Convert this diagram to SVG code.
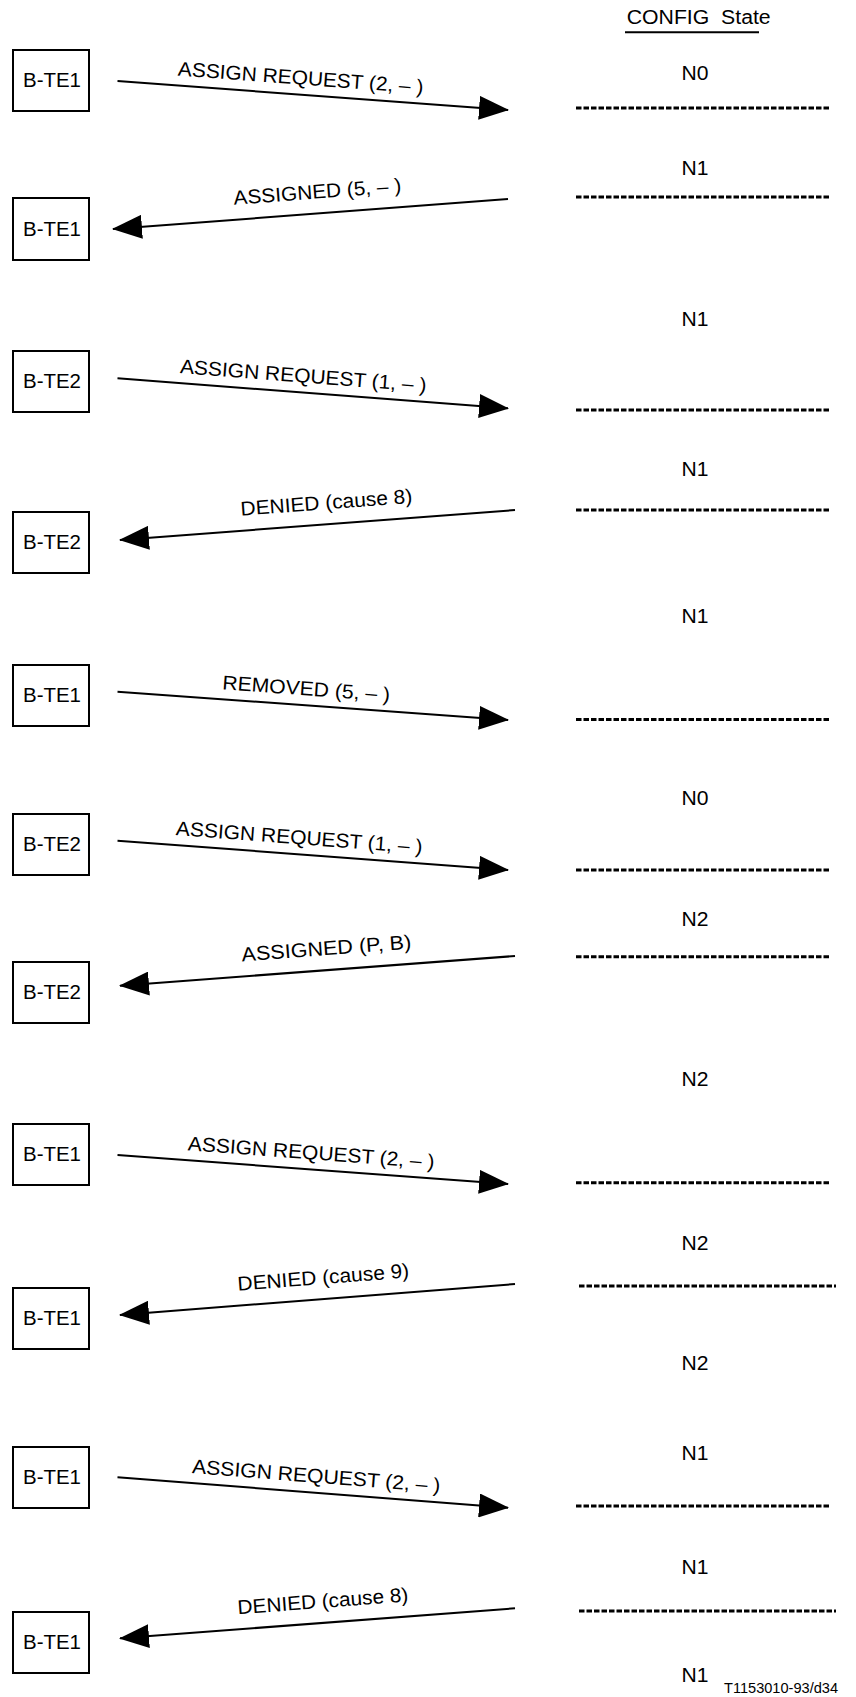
<svg xmlns="http://www.w3.org/2000/svg" width="856" height="1697" viewBox="0 0 856 1697">
<defs>
<style>
text{font-family:"Liberation Sans",Arial,sans-serif;fill:#000}
.box rect{fill:#fff;stroke:#000;stroke-width:2}
.box text{font-size:20px;text-anchor:middle}
.msg{stroke:#000;stroke-width:2;fill:none}
.lbl{font-size:20px;text-anchor:middle}
.st{font-size:20px;text-anchor:middle}
.dash{stroke:#000;stroke-width:3;stroke-dasharray:5.5 2}
</style>
<marker id="ah" viewBox="0 0 30 24" refX="29" refY="12" markerWidth="30" markerHeight="24" markerUnits="userSpaceOnUse" orient="auto">
<path d="M0,0 L30,12 L0,24 z" fill="#000"/>
</marker>
</defs>
<rect width="856" height="1697" fill="#fff"/>

<g id="header">
<text x="698.7" y="24" font-size="20" text-anchor="middle" textLength="144" lengthAdjust="spacingAndGlyphs" xml:space="preserve">CONFIG  State</text>
<line x1="625" y1="32.3" x2="759" y2="32.3" stroke="#000" stroke-width="2"/>
</g>

<g id="states">
<text class="st" x="695" y="80" textLength="27" lengthAdjust="spacingAndGlyphs">N0</text>
<text class="st" x="695" y="175" textLength="27" lengthAdjust="spacingAndGlyphs">N1</text>
<text class="st" x="695" y="326" textLength="27" lengthAdjust="spacingAndGlyphs">N1</text>
<text class="st" x="695" y="476" textLength="27" lengthAdjust="spacingAndGlyphs">N1</text>
<text class="st" x="695" y="623" textLength="27" lengthAdjust="spacingAndGlyphs">N1</text>
<text class="st" x="695" y="805" textLength="27" lengthAdjust="spacingAndGlyphs">N0</text>
<text class="st" x="695" y="926" textLength="27" lengthAdjust="spacingAndGlyphs">N2</text>
<text class="st" x="695" y="1086" textLength="27" lengthAdjust="spacingAndGlyphs">N2</text>
<text class="st" x="695" y="1250" textLength="27" lengthAdjust="spacingAndGlyphs">N2</text>
<text class="st" x="695" y="1370" textLength="27" lengthAdjust="spacingAndGlyphs">N2</text>
<text class="st" x="695" y="1460" textLength="27" lengthAdjust="spacingAndGlyphs">N1</text>
<text class="st" x="695" y="1574" textLength="27" lengthAdjust="spacingAndGlyphs">N1</text>
<text class="st" x="695" y="1682" textLength="27" lengthAdjust="spacingAndGlyphs">N1</text>
<line class="dash" x1="576" y1="108" x2="830" y2="108"/>
<line class="dash" x1="576" y1="197" x2="830" y2="197"/>
<line class="dash" x1="576" y1="410" x2="830" y2="410"/>
<line class="dash" x1="576" y1="510" x2="830" y2="510"/>
<line class="dash" x1="576" y1="719.5" x2="830" y2="719.5"/>
<line class="dash" x1="576" y1="870" x2="830" y2="870"/>
<line class="dash" x1="576" y1="956.7" x2="830" y2="956.7"/>
<line class="dash" x1="576" y1="1182.7" x2="830" y2="1182.7"/>
<line class="dash" x1="579" y1="1286" x2="836" y2="1286"/>
<line class="dash" x1="576" y1="1506" x2="830" y2="1506"/>
<line class="dash" x1="579" y1="1611" x2="836" y2="1611"/>
</g>

<g id="n1" class="box"><rect x="13" y="50" width="76" height="61"/><text x="52" y="87" textLength="58" lengthAdjust="spacingAndGlyphs">B-TE1</text></g>
<g id="n2" class="box"><rect x="13" y="198" width="76" height="62"/><text x="52" y="236" textLength="58" lengthAdjust="spacingAndGlyphs">B-TE1</text></g>
<g id="n3" class="box"><rect x="13" y="351" width="76" height="61"/><text x="52" y="388" textLength="58" lengthAdjust="spacingAndGlyphs">B-TE2</text></g>
<g id="n4" class="box"><rect x="13" y="512" width="76" height="61"/><text x="52" y="549" textLength="58" lengthAdjust="spacingAndGlyphs">B-TE2</text></g>
<g id="n5" class="box"><rect x="13" y="665" width="76" height="61"/><text x="52" y="702" textLength="58" lengthAdjust="spacingAndGlyphs">B-TE1</text></g>
<g id="n6" class="box"><rect x="13" y="814" width="76" height="61"/><text x="52" y="851" textLength="58" lengthAdjust="spacingAndGlyphs">B-TE2</text></g>
<g id="n7" class="box"><rect x="13" y="962" width="76" height="61"/><text x="52" y="999" textLength="58" lengthAdjust="spacingAndGlyphs">B-TE2</text></g>
<g id="n8" class="box"><rect x="13" y="1124" width="76" height="61"/><text x="52" y="1161" textLength="58" lengthAdjust="spacingAndGlyphs">B-TE1</text></g>
<g id="n9" class="box"><rect x="13" y="1288" width="76" height="61"/><text x="52" y="1325" textLength="58" lengthAdjust="spacingAndGlyphs">B-TE1</text></g>
<g id="n10" class="box"><rect x="13" y="1447" width="76" height="61"/><text x="52" y="1484" textLength="58" lengthAdjust="spacingAndGlyphs">B-TE1</text></g>
<g id="n11" class="box"><rect x="13" y="1612" width="76" height="61"/><text x="52" y="1649" textLength="58" lengthAdjust="spacingAndGlyphs">B-TE1</text></g>

<g id="connectors">
<line class="msg" x1="117.5" y1="81" x2="508" y2="110" marker-end="url(#ah)"/>
<line class="msg" x1="508" y1="199" x2="113" y2="229" marker-end="url(#ah)"/>
<line class="msg" x1="117.5" y1="378.3" x2="508" y2="408.3" marker-end="url(#ah)"/>
<line class="msg" x1="515" y1="510" x2="120" y2="540" marker-end="url(#ah)"/>
<line class="msg" x1="117.5" y1="691.7" x2="508" y2="720" marker-end="url(#ah)"/>
<line class="msg" x1="117.5" y1="840.7" x2="508" y2="870" marker-end="url(#ah)"/>
<line class="msg" x1="515" y1="956" x2="120" y2="985.7" marker-end="url(#ah)"/>
<line class="msg" x1="117.5" y1="1155" x2="508" y2="1184" marker-end="url(#ah)"/>
<line class="msg" x1="515" y1="1284" x2="120" y2="1315" marker-end="url(#ah)"/>
<line class="msg" x1="117.5" y1="1477.3" x2="508" y2="1507.7" marker-end="url(#ah)"/>
<line class="msg" x1="515" y1="1608.3" x2="120" y2="1638.3" marker-end="url(#ah)"/>

<text class="lbl" transform="translate(299.5,94.5) rotate(4.25)" x="0" y="-10" textLength="246" lengthAdjust="spacingAndGlyphs">ASSIGN REQUEST (2, – )</text>
<text class="lbl" transform="translate(319,213.4) rotate(-4.34)" x="0" y="-15" textLength="168" lengthAdjust="spacingAndGlyphs">ASSIGNED (5, – )</text>
<text class="lbl" transform="translate(302,392.5) rotate(4.39)" x="0" y="-10" textLength="247" lengthAdjust="spacingAndGlyphs">ASSIGN REQUEST (1, – )</text>
<text class="lbl" transform="translate(328,524.2) rotate(-4.34)" x="0" y="-15" textLength="172" lengthAdjust="spacingAndGlyphs">DENIED (cause 8)</text>
<text class="lbl" transform="translate(305,705.3) rotate(4.15)" x="0" y="-10" textLength="168" lengthAdjust="spacingAndGlyphs">REMOVED (5, – )</text>
<text class="lbl" transform="translate(298,854.2) rotate(4.29)" x="0" y="-10" textLength="247" lengthAdjust="spacingAndGlyphs">ASSIGN REQUEST (1, – )</text>
<text class="lbl" transform="translate(328,970) rotate(-4.30)" x="0" y="-15" textLength="170" lengthAdjust="spacingAndGlyphs">ASSIGNED (P, B)</text>
<text class="lbl" transform="translate(310,1169.3) rotate(4.25)" x="0" y="-10" textLength="247" lengthAdjust="spacingAndGlyphs">ASSIGN REQUEST (2, – )</text>
<text class="lbl" transform="translate(325,1299) rotate(-4.49)" x="0" y="-15" textLength="172" lengthAdjust="spacingAndGlyphs">DENIED (cause 9)</text>
<text class="lbl" transform="translate(315,1492.7) rotate(4.45)" x="0" y="-10" textLength="249" lengthAdjust="spacingAndGlyphs">ASSIGN REQUEST (2, – )</text>
<text class="lbl" transform="translate(324.5,1622.8) rotate(-4.34)" x="0" y="-15" textLength="171" lengthAdjust="spacingAndGlyphs">DENIED (cause 8)</text>
</g>

<text x="838" y="1693" font-size="15.5" text-anchor="end" textLength="114" lengthAdjust="spacingAndGlyphs">T1153010-93/d34</text>
</svg>
